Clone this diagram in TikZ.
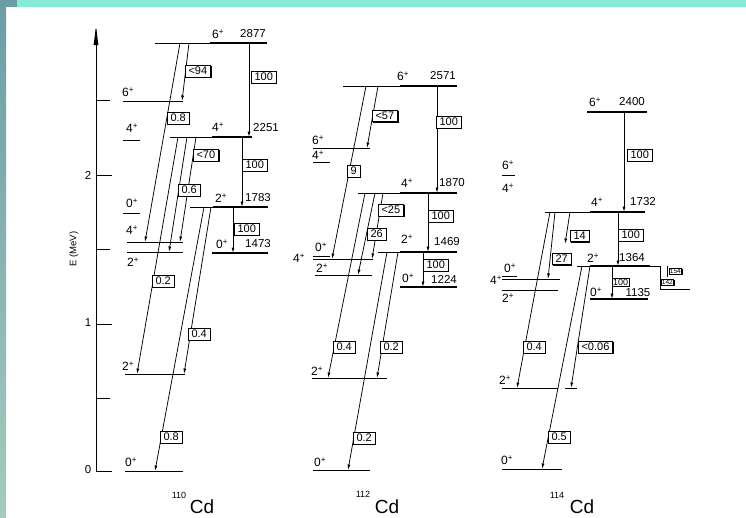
\documentclass[tikz,border=0pt]{standalone}
\usepackage{fontspec}
\setsansfont{Liberation Sans}
\usepackage{xcolor}
\usepackage{tikz}
\usetikzlibrary{arrows.meta,shadows}
\definecolor{bandteal}{HTML}{88EBD6}
\definecolor{stripetop}{HTML}{6A9DA5}
\definecolor{stripebot}{HTML}{A4CBBE}
\newcommand{\spinp}[1]{#1\textsuperscript{+}}
\tikzset{
  lvthin/.style={line width=0.9pt},
  lvthick/.style={line width=2.6pt},
  trans/.style={line width=0.75pt, -{Latex[length=5.5pt,width=3pt]}},
  ratebox/.style={draw, fill=white, line width=0.7pt, inner xsep=3.2pt, inner ysep=2pt, anchor=west, font=\sffamily\fontsize{11}{11}\selectfont, drop shadow={shadow xshift=1.1pt, shadow yshift=-1.2pt, opacity=1, fill=black}},
  spinlbl/.style={font=\sffamily\fontsize{12}{12}\selectfont, inner sep=0pt},
  enlbl/.style={font=\sffamily\fontsize{11.5}{11.5}\selectfont, inner sep=0pt}
}

\begin{document}
\begin{tikzpicture}[x=1pt,y=-1pt]
  % page frame
  \useasboundingbox (0,0) rectangle (746,517);
  \fill[white] (0,0) rectangle (746,517);
  \fill[bandteal] (0,0) rectangle (746,7);
  \shade[top color=stripetop, bottom color=stripebot] (0,0) rectangle (6,517);
  \fill[stripetop] (0,0) rectangle (17,7);

  % energy axis
  \draw[line width=0.9pt, -{Latex[length=22pt,width=5pt]}] (96,471) -- (96,23);
  \foreach \yy in {471,324,175} \draw[lvthin] (96,\yy) -- (112,\yy);
  \foreach \yy in {398,249,100} \draw[lvthin] (96,\yy) -- (110,\yy);
  \node[enlbl] (tick0) at (88,470) {0};
  \node[enlbl] (tick1) at (88,323) {1};
  \node[enlbl] (tick2) at (88,175) {2};
  \node[font=\sffamily\fontsize{9.5}{9.5}\selectfont, rotate=90] (eaxis) at (74,249) {E (MeV)};

  % 110Cd
  \draw[lvthin] (155,43) -- (210,43);
  \draw[lvthick] (210,43) -- (267,43);
  \draw[lvthin] (170,137) -- (212,137);
  \draw[lvthick] (212,137) -- (252,137);
  \draw[lvthin] (190,207) -- (213,207);
  \draw[lvthick] (213,207) -- (268,207);
  \draw[lvthick] (212,253) -- (268,253);
  \draw[lvthin] (123,101) -- (183,101);
  \draw[lvthin] (123,140) -- (140,140);
  \draw[lvthin] (123,213) -- (140,213);
  \draw[lvthin] (127,242) -- (183,242);
  \draw[lvthin] (127,252) -- (183,252);
  \draw[lvthin] (125,374) -- (185,374);
  \draw[lvthin] (125,471) -- (183,471);
  \node[spinlbl] (a6) at (218,34) {\spinp{6}};
  \node[enlbl] (a2877) at (253,34) {2877};
  \node[spinlbl] (a4) at (218,127) {\spinp{4}};
  \node[enlbl] (a2251) at (266,128) {2251};
  \node[spinlbl] (a2) at (221,198) {\spinp{2}};
  \node[enlbl] (a1783) at (258,198) {1783};
  \node[spinlbl] (a0) at (222,244) {\spinp{0}};
  \node[enlbl] (a1473) at (258,244) {1473};
  \node[spinlbl] (a6b) at (128,92) {\spinp{6}};
  \node[spinlbl] (a4b) at (132,128) {\spinp{4}};
  \node[spinlbl] (a0b) at (132,203) {\spinp{0}};
  \node[spinlbl] (a4c) at (132,230) {\spinp{4}};
  \node[spinlbl] (a2b) at (133,262) {\spinp{2}};
  \node[spinlbl] (a2c) at (128,366) {\spinp{2}};
  \node[spinlbl] (a0c) at (131,462) {\spinp{0}};
  \draw[trans] (249,43) -- (249,137);
  \draw[trans] (242,137) -- (242,207);
  \draw[trans] (233,207) -- (233,253);
  \draw[trans] (189,43) -- (182,101);
  \draw[trans] (180,43) -- (145,242);
  \draw[trans] (196,137) -- (180,242);
  \draw[trans] (187,137) -- (169,252);
  \draw[trans] (178,137) -- (137,374);
  \draw[trans] (211,207) -- (184,374);
  \draw[trans] (204,207) -- (155,471);
  \node[ratebox] (r94) at (185,71) {<94};
  \node[ratebox] (ra1) at (251,77) {100};
  \node[ratebox] (ra2) at (167,118) {0.8};
  \node[ratebox] (r70) at (193,155) {<70};
  \node[ratebox] (ra3) at (242,165) {100};
  \node[ratebox] (ra4) at (178,190) {0.6};
  \node[ratebox] (ra5) at (234,229) {100};
  \node[ratebox] (ra6) at (152,281) {0.2};
  \node[ratebox] (ra7) at (188,334) {0.4};
  \node[ratebox] (ra8) at (160,437) {0.8};
  \node[font=\sffamily\fontsize{9}{9}\selectfont] (m110) at (179,495) {110};
  \node[font=\sffamily\fontsize{19}{19}\selectfont] (cd110) at (202,507) {Cd};

  % 112Cd
  \draw[lvthin] (343,86) -- (400,86);
  \draw[lvthick] (400,86) -- (457,86);
  \draw[lvthin] (358,193) -- (400,193);
  \draw[lvthick] (400,193) -- (457,193);
  \draw[lvthin] (378,252) -- (400,252);
  \draw[lvthick] (400,252) -- (457,252);
  \draw[lvthick] (400,287) -- (457,287);
  \draw[lvthin] (313,148) -- (370,148);
  \draw[lvthin] (313,162) -- (330,162);
  \draw[lvthin] (313,256) -- (330,256);
  \draw[lvthin] (313,259) -- (373,259);
  \draw[lvthin] (315,275) -- (372,275);
  \draw[lvthin] (312,378) -- (387,378);
  \draw[lvthin] (313,470) -- (370,470);
  \node[spinlbl] (b6) at (403,76) {\spinp{6}};
  \node[enlbl] (b2571) at (443,76) {2571};
  \node[spinlbl] (b4) at (407,183) {\spinp{4}};
  \node[enlbl] (b1870) at (452,183) {1870};
  \node[spinlbl] (b2) at (407,239) {\spinp{2}};
  \node[enlbl] (b1469) at (447,242) {1469};
  \node[spinlbl] (b0) at (408,278) {\spinp{0}};
  \node[enlbl] (b1224) at (444,279) {1224};
  \node[spinlbl] (b6b) at (318,140) {\spinp{6}};
  \node[spinlbl] (b4b) at (318,155) {\spinp{4}};
  \node[spinlbl] (b0b) at (321,247) {\spinp{0}};
  \node[spinlbl] (b4c) at (299,258) {\spinp{4}};
  \node[spinlbl] (b2b) at (322,268) {\spinp{2}};
  \node[spinlbl] (b2c) at (317,371) {\spinp{2}};
  \node[spinlbl] (b0c) at (320,462) {\spinp{0}};
  \draw[trans] (437,86) -- (437,193);
  \draw[trans] (428,193) -- (428,252);
  \draw[trans] (423,252) -- (423,287);
  \draw[trans] (378,86) -- (367,148);
  \draw[trans] (366,86) -- (332,259);
  \draw[trans] (383,193) -- (372,259);
  \draw[trans] (375,193) -- (358,275);
  \draw[trans] (365,193) -- (328,378);
  \draw[trans] (398,252) -- (377,378);
  \draw[trans] (387,252) -- (348,470);
  \node[ratebox] (r57) at (372,116) {<57};
  \node[ratebox] (rb1) at (436,122) {100};
  \node[ratebox] (rb2) at (347,171) {9};
  \node[ratebox] (r25) at (378,210) {<25};
  \node[ratebox] (rb3) at (428,216) {100};
  \node[ratebox] (rb4) at (367,234) {26};
  \node[ratebox] (rb5) at (423,265) {100};
  \node[ratebox] (rb6) at (333,347) {0.4};
  \node[ratebox] (rb7) at (380,347) {0.2};
  \node[ratebox] (rb8) at (353,438) {0.2};
  \node[font=\sffamily\fontsize{9}{9}\selectfont] (m112) at (363,494) {112};
  \node[font=\sffamily\fontsize{19}{19}\selectfont] (cd112) at (387,507) {Cd};

  % 114Cd
  \draw[lvthick] (587,112) -- (647,112);
  \draw[lvthin] (545,212) -- (590,212);
  \draw[lvthick] (590,212) -- (645,212);
  \draw[lvthin] (577,266) -- (590,266);
  \draw[lvthick] (590,266) -- (650,266);
  \draw[lvthin] (650,266) -- (660,266);
  \draw[lvthick] (590,299) -- (648,299);
  \draw[lvthin] (502,175) -- (515,175);
  \draw[lvthin] (502,276) -- (517,276);
  \draw[lvthin] (502,279) -- (560,279);
  \draw[lvthin] (502,290) -- (558,290);
  \draw[lvthin] (502,388) -- (558,388);
  \draw[lvthin] (565,388) -- (577,388);
  \draw[lvthin] (502,469) -- (562,469);
  \node[spinlbl] (c6) at (595,102) {\spinp{6}};
  \node[enlbl] (c2400) at (632,102) {2400};
  \node[spinlbl] (c4) at (597,202) {\spinp{4}};
  \node[enlbl] (c1732) at (643,202) {1732};
  \node[spinlbl] (c2) at (593,258) {\spinp{2}};
  \node[enlbl] (c1364) at (632,258) {1364};
  \node[spinlbl] (c0) at (596,292) {\spinp{0}};
  \node[enlbl] (c1135) at (638,293) {1135};
  \node[spinlbl] (c6b) at (508,165) {\spinp{6}};
  \node[spinlbl] (c4b) at (508,188) {\spinp{4}};
  \node[spinlbl] (c0b) at (510,268) {\spinp{0}};
  \node[spinlbl] (c4c) at (496,280) {\spinp{4}};
  \node[spinlbl] (c2b) at (508,298) {\spinp{2}};
  \node[spinlbl] (c2c) at (505,380) {\spinp{2}};
  \node[spinlbl] (c0c) at (507,460) {\spinp{0}};
  \draw[trans] (624,112) -- (624,212);
  \draw[trans] (618,212) -- (618,266);
  \draw[trans] (612,266) -- (612,299);
  \draw[trans] (570,212) -- (565,244);
  \draw[trans] (555,212) -- (548,279);
  \draw[trans] (550,212) -- (517,388);
  \draw[trans] (590,266) -- (571,388);
  \draw[trans] (582,266) -- (542,469);
  \draw[lvthin] (660,266) -- (660,289) -- (690,289);
  \draw[lvthin] (667,266) -- (667,277);
  \node[ratebox] (rc1) at (627,155) {100};
  \node[ratebox] (r14) at (570,236) {14};
  \node[ratebox] (r27) at (552,259) {27};
  \node[ratebox] (rc2) at (618,235) {100};
  \node[ratebox, font=\sffamily\fontsize{9}{9}\selectfont, inner sep=0.8pt] (rc3) at (612,282) {100};
  \node[ratebox] (rc4) at (523,347) {0.4};
  \node[ratebox] (r006) at (578,347) {<0.06};
  \node[ratebox] (rc5) at (548,437) {0.5};
  \node[ratebox, font=\sffamily\fontsize{6.5}{6.5}\selectfont, inner sep=0.6pt] (r154) at (669,271) {154};
  \node[ratebox, font=\sffamily\fontsize{6.5}{6.5}\selectfont, inner sep=0.6pt] (r142) at (661,282) {142};
  \node[font=\sffamily\fontsize{9}{9}\selectfont] (m114) at (557,495) {114};
  \node[font=\sffamily\fontsize{19}{19}\selectfont] (cd114) at (582,507) {Cd};
\end{tikzpicture}
\end{document}
